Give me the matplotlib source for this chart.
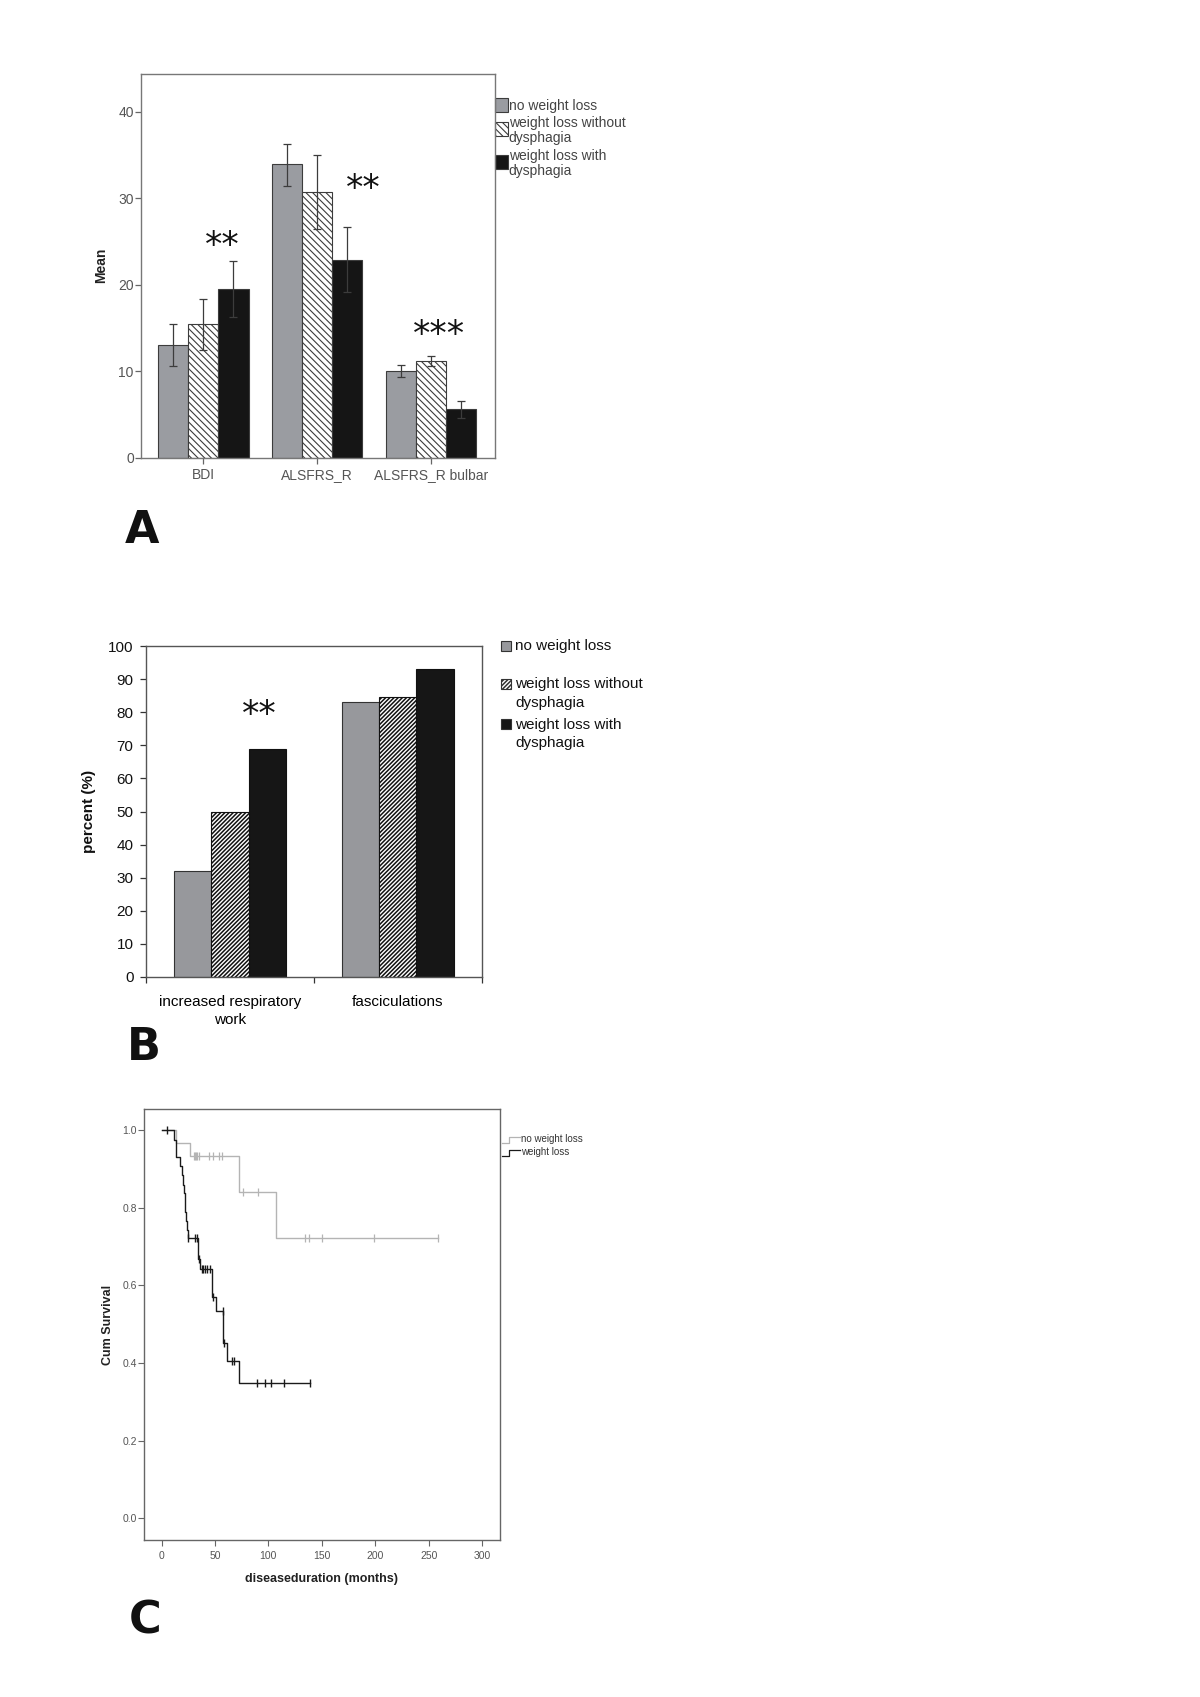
import matplotlib
matplotlib.use('Agg')
import matplotlib.pyplot as plt
from matplotlib.patches import Rectangle
from matplotlib.transforms import offset_copy
import numpy as np

plt.rcParams['font.family'] = ['Liberation Sans', 'DejaVu Sans']

# ---------------- data ----------------
# panel A: mean scores with error bars
a_categories = ['BDI', 'ALSFRS_R', 'ALSFRS_R bulbar']
a_groups = ['no weight loss', 'weight loss without\ndysphagia', 'weight loss with\ndysphagia']
a_no_loss = [13.0, 33.9, 10.0]
a_no_loss_lo = [10.6, 31.4, 9.3]
a_no_loss_hi = [15.4, 36.3, 10.7]
a_loss_no_dys = [15.5, 30.7, 11.2]
a_loss_no_dys_lo = [12.5, 26.4, 10.6]
a_loss_no_dys_hi = [18.4, 35.0, 11.8]
a_loss_dys = [19.5, 22.9, 5.6]
a_loss_dys_lo = [16.3, 19.1, 4.6]
a_loss_dys_hi = [22.7, 26.7, 6.6]
a_stars = ['**', '**', '***']
a_star_y = [25.4, 31.9, 15.1]

# panel B: percent of patients
b_categories = ['increased respiratory\nwork', 'fasciculations']
b_no_loss = [32, 83]
b_loss_no_dys = [50, 84.5]
b_loss_dys = [69, 93]
b_stars = ['**', '']
b_star_y = [81.4, 0]

# panel C: Kaplan-Meier curves
c_labels = ['no weight loss', 'weight loss']
c_nowl_t = [0, 13.5, 27.0, 72.1, 107.2, 259.2]
c_nowl_s = [1.0, 0.967, 0.934, 0.841, 0.721, 0.721]
c_nowl_cens_t = [30.5, 31.5, 32.5, 33.5, 35.0, 44.0, 48.0, 54.0, 57.0,
                 75.8, 90.5, 134.3, 138.0, 149.8, 198.6, 259.2]
c_nowl_cens_s = [0.934] * 9 + [0.841] * 2 + [0.721] * 5
c_wl_t = [0, 12.1, 13.7, 17.7, 19.3, 20.2, 21.0, 21.6, 22.3, 23.0, 23.7, 24.4,
          34.5, 36.4, 46.9, 50.7, 57.8, 61.2, 72.1, 138.6]
c_wl_s = [1.0, 0.975, 0.930, 0.907, 0.884, 0.860, 0.837, 0.813, 0.790, 0.767,
          0.744, 0.721, 0.669, 0.643, 0.571, 0.533, 0.451, 0.406, 0.348, 0.348]
c_wl_cens_t = [5.0, 24.6, 31.4, 33.5, 35.4, 37.6, 38.9, 41.0, 42.6, 45.1,
               48.5, 57.2, 58.7, 65.6, 67.5, 88.9, 96.7, 102.3, 114.7, 138.6]
c_wl_cens_s = [1.0, 0.721, 0.721, 0.721, 0.669, 0.643, 0.643, 0.643, 0.643, 0.643,
               0.571, 0.533, 0.451, 0.406, 0.406, 0.348, 0.348, 0.348, 0.348, 0.348]

fig = plt.figure(figsize=(12, 16.97), dpi=100)

# ---------------- panel A ----------------
gray_a = '#9a9ca1'
dark_a = '#3c3c3c'
axA = fig.add_axes([0.1173, 0.7303, 0.2948, 0.2263])
x = np.arange(len(a_categories))
w = 0.265
plt.rcParams['hatch.linewidth'] = 0.8
axA.bar(x - w, a_no_loss, w, color=gray_a, edgecolor=dark_a, linewidth=0.8, zorder=2)
axA.bar(x, a_loss_no_dys, w, color='white', edgecolor=dark_a, linewidth=0.8,
        hatch='\\\\\\\\\\', zorder=2)
axA.bar(x + w, a_loss_dys, w, color='#151515', edgecolor=dark_a, linewidth=0.8, zorder=2)

for off, m, lo, hi in [(-w, a_no_loss, a_no_loss_lo, a_no_loss_hi),
                       (0, a_loss_no_dys, a_loss_no_dys_lo, a_loss_no_dys_hi),
                       (w, a_loss_dys, a_loss_dys_lo, a_loss_dys_hi)]:
    m = np.array(m)
    err = [m - np.array(lo), np.array(hi) - m]
    axA.errorbar(x + off, m, yerr=err, fmt='none', ecolor=dark_a,
                 elinewidth=0.9, capsize=2.6, capthick=0.9, zorder=3)

# asterisks sit high in the font, pull them down a little
star_tr_a = offset_copy(axA.transData, fig=fig, y=-5.5, units='points')
star_dx = [0.17, 0.41, 0.07]
for i in range(len(a_stars)):
    axA.text(x[i] + star_dx[i], a_star_y[i], a_stars[i], ha='center', va='center',
             fontsize=25, family='DejaVu Sans', color='#111111', transform=star_tr_a)

axA.set_xlim(-0.55, 2.56)
axA.set_ylim(0, 44.4)
axA.set_yticks([0, 10, 20, 30, 40])
axA.set_xticks(x)
axA.set_xticklabels(a_categories)
axA.tick_params(colors='#666666', labelcolor='#555555', labelsize=10, length=4, width=0.9)
axA.tick_params(axis='y', pad=1)
for s in axA.spines.values():
    s.set_color('#777777')
    s.set_linewidth(1.0)
axA.set_ylabel('Mean', fontsize=10, fontweight='bold', color='#222222')
axA.yaxis.set_label_coords(-0.092, 0.5)

# legend A, drawn by hand next to the box
leg_a = [(0.913, gray_a, None, 0.918), (0.869, 'white', '\\\\\\\\\\', 0.855),
         (0.783, '#151515', None, 0.770)]
for (ytxt, fc, hat, ypatch), lab in zip(leg_a, a_groups):
    axA.add_patch(Rectangle((1.0, ypatch - 0.018), 0.037, 0.036, transform=axA.transAxes,
                            clip_on=False, facecolor=fc, edgecolor=dark_a, lw=0.8, hatch=hat))
    axA.text(1.04, ytxt + 0.0205, lab, transform=axA.transAxes, ha='left', va='top',
             fontsize=10, color='#444444', linespacing=1.08)

# ---------------- panel B ----------------
axB = fig.add_axes([0.1217, 0.4243, 0.2796, 0.1950])
xb = np.arange(len(b_categories))
wb = 0.222
axB.bar(xb - wb, b_no_loss, wb, color='#97989c', edgecolor='#333333', linewidth=0.8, zorder=2)
plt.rcParams['hatch.linewidth'] = 1.1
axB.bar(xb, b_loss_no_dys, wb, color='white', edgecolor='#111111', linewidth=0.8,
        hatch='////////', zorder=2)
axB.bar(xb + wb, b_loss_dys, wb, color='#161616', edgecolor='#111111', linewidth=0.8, zorder=2)

star_tr_b = offset_copy(axB.transData, fig=fig, y=-5.5, units='points')
for i in range(len(b_stars)):
    if b_stars[i]:
        axB.text(xb[i] + 0.177, b_star_y[i], b_stars[i], ha='center', va='center',
                 fontsize=25, family='DejaVu Sans', color='#111111', transform=star_tr_b)

axB.set_xlim(-0.5, 1.5)
axB.set_ylim(0, 100)
axB.set_yticks(range(0, 101, 10))
axB.set_xticks([-0.5, 0.5, 1.5])
axB.set_xticklabels([])
axB.set_xticks(xb, minor=True)
axB.set_xticklabels(b_categories, minor=True)
for lab in axB.get_xticklabels(minor=True):
    lab.set_linespacing(1.4)
axB.tick_params(axis='x', which='minor', length=0, pad=13, labelsize=11)
axB.tick_params(axis='both', which='major', labelsize=11, length=4, width=0.9, colors='#333333',
                labelcolor='#111111')
axB.tick_params(axis='y', pad=5)
for s in axB.spines.values():
    s.set_color('#555555')
    s.set_linewidth(1.0)
axB.set_ylabel('percent (%)', fontsize=11, fontweight='bold', color='#111111')
axB.yaxis.set_label_coords(-0.149, 0.5)

leg_b = [(1.0, '#97989c', None), (0.885, 'white', '////////'), (0.764, '#161616', None)]
for (yc, fc, hat), lab in zip(leg_b, a_groups):
    axB.add_patch(Rectangle((1.058, yc - 0.015), 0.0298, 0.0302, transform=axB.transAxes,
                            clip_on=False, facecolor=fc, edgecolor='#333333', lw=0.8, hatch=hat))
    axB.text(1.1, yc + 0.02, lab, transform=axB.transAxes, ha='left', va='top',
             fontsize=11, color='#111111', linespacing=1.4)

# ---------------- panel C ----------------
axC = fig.add_axes([0.1199, 0.0925, 0.2968, 0.254])
c_gray = '#b4b4b4'
c_dark = '#1a1a1a'
axC.step(c_nowl_t, c_nowl_s, where='post', color=c_gray, lw=1.0)
axC.plot(c_nowl_cens_t, c_nowl_cens_s, ls='none', marker='|', ms=6, mew=0.9, color=c_gray)
axC.step(c_wl_t, c_wl_s, where='post', color=c_dark, lw=1.0)
axC.plot(c_wl_cens_t, c_wl_cens_s, ls='none', marker='|', ms=6, mew=1.0, color=c_dark)

axC.set_xlim(-16.5, 316.8)
axC.set_ylim(-0.0565, 1.0548)
axC.set_xticks(range(0, 301, 50))
axC.set_yticks([0.0, 0.2, 0.4, 0.6, 0.8, 1.0])
axC.set_yticklabels(['0.0', '0.2', '0.4', '0.6', '0.8', '1.0'])
axC.tick_params(colors='#666666', labelcolor='#555555', labelsize=7.5, length=4, width=0.8)
axC.tick_params(axis='y', pad=1)
axC.tick_params(axis='x', pad=4)
for s in axC.spines.values():
    s.set_color('#666666')
    s.set_linewidth(1.0)
axC.set_ylabel('Cum Survival', fontsize=9, fontweight='bold', color='#222222')
axC.yaxis.set_label_coords(-0.084, 0.5)
axC.set_xlabel('diseaseduration (months)', fontsize=9, fontweight='bold', color='#222222')
axC.xaxis.set_label_coords(0.5, -0.076)

# legend C with little step glyphs
for (ylow, yhigh, ytxt), col, lab in zip([(0.920, 0.934, 0.930), (0.891, 0.904, 0.900)],
                                         [c_gray, c_dark], c_labels):
    gx = [1.005, 1.025, 1.025, 1.056]
    gy = [ylow, ylow, yhigh, yhigh]
    axC.plot(gx, gy, transform=axC.transAxes, clip_on=False, color=col, lw=0.9)
    axC.text(1.059, ytxt, lab, transform=axC.transAxes, ha='left', va='center',
             fontsize=7, color='#333333')

# panel letters
for lx, ly, letter in [(0.118, 0.6872, 'A'), (0.12, 0.3828, 'B'), (0.121, 0.0448, 'C')]:
    fig.text(lx, ly, letter, fontsize=32, fontweight='bold', family='DejaVu Sans',
             ha='center', va='center', color='#111111')

fig.savefig('out.png', dpi=100)
